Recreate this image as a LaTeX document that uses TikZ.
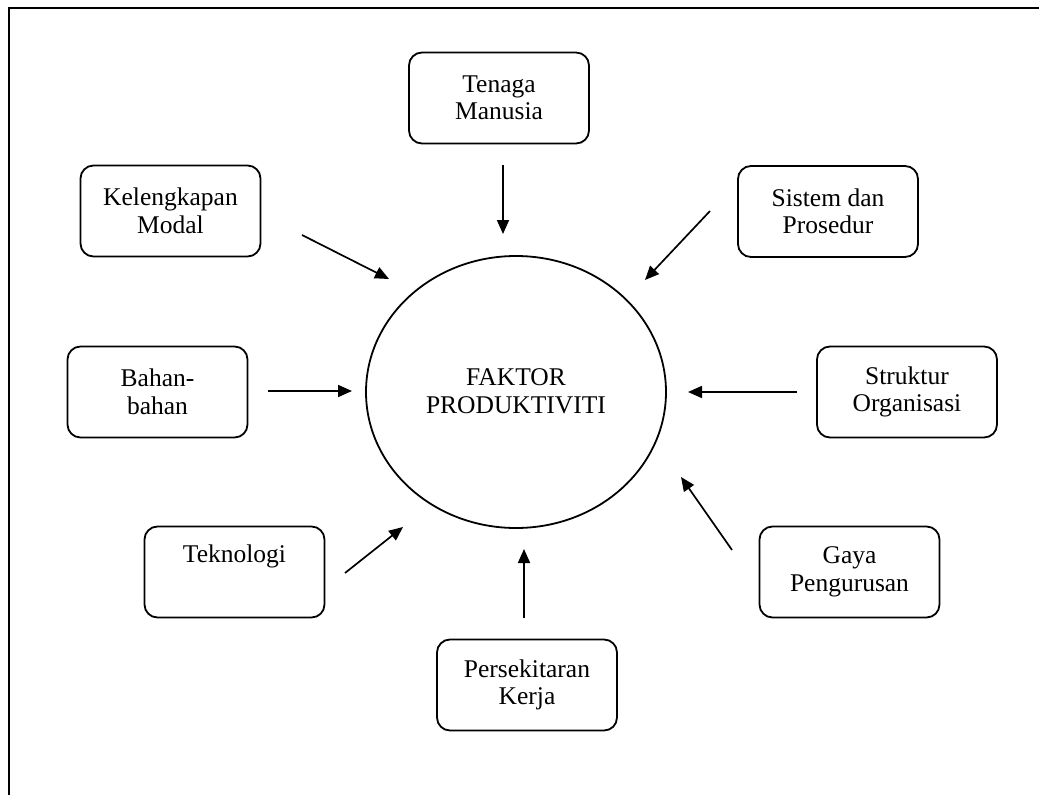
\documentclass[tikz,border=0pt]{standalone}
\usepackage{fontspec}
\setmainfont{Liberation Serif}
\usetikzlibrary{arrows.meta}
\begin{document}
\begin{tikzpicture}[x=1pt,y=-1pt,
  factorbox/.style={draw,line width=1.8pt,rounded corners=13pt,minimum width=180pt,minimum height=91pt,align=center,font=\fontsize{25.5}{27.5}\selectfont,inner sep=0pt},
  inarrow/.style={line width=1.7pt,-{Triangle[length=14pt,width=12pt]}}]
\useasboundingbox (0,0) rectangle (1039,795);
% frame (top and left edges)
\coordinate (fl) at (9,795);
\coordinate (fc) at (9,8);
\coordinate (fr) at (1039,8);
\draw[line width=2.4pt] (fl) -- (fc) -- (fr);
% centre
\draw[line width=1.8pt] (516,392) ellipse [x radius=150, y radius=136];
\node[align=center,font=\fontsize{25.5}{27.5}\selectfont] (pusat) at (516,391) {FAKTOR\\PRODUKTIVITI};
% boxes
\node[factorbox] (tenaga) at (499,98) {Tenaga\\Manusia};
\node[factorbox] (modal) at (170.5,211) {Kelengkapan\\Modal};
\node[factorbox] (sistem) at (828,211.5) {Sistem dan\\Prosedur};
\node[factorbox] (bahan) at (157.5,392) {Bahan-\\bahan};
\node[factorbox] (struktur) at (907,392) {Struktur\\Organisasi};
\node[factorbox] (gaya) at (849.5,572) {Gaya\\Pengurusan};
\node[factorbox] (tekno) at (234.5,572) {Teknologi\\\strut};
\node[factorbox] (persek) at (527,685) {Persekitaran\\Kerja};
% arrow ends
\coordinate (a1s) at (503,165); \coordinate (a1e) at (503,234);
\coordinate (a2s) at (302,235); \coordinate (a2e) at (389,279);
\coordinate (a3s) at (710,211); \coordinate (a3e) at (645,280);
\coordinate (a4s) at (268,391); \coordinate (a4e) at (352,391);
\coordinate (a5s) at (797,392); \coordinate (a5e) at (688,392);
\coordinate (a6s) at (345,573); \coordinate (a6e) at (403,527);
\coordinate (a7s) at (524,618); \coordinate (a7e) at (524,549);
\coordinate (a8s) at (732,550); \coordinate (a8e) at (681,477);
\foreach \i in {1,...,8} {\draw[inarrow] (a\i s) -- (a\i e);}
\end{tikzpicture}
\end{document}
